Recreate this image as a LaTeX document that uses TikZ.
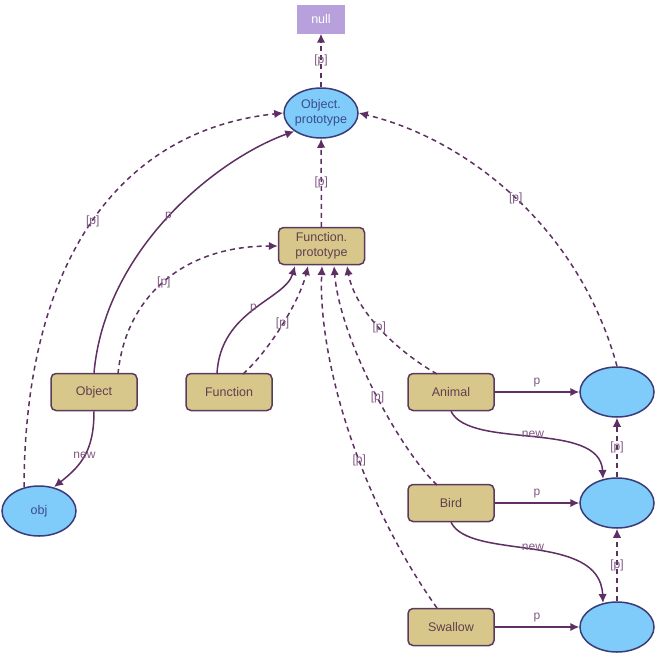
\documentclass[tikz,border=0pt]{standalone}
\usepackage{fontspec}
\setmainfont{Liberation Sans}
\usetikzlibrary{arrows.meta,shapes.geometric}
\definecolor{edge}{HTML}{5E2F62}
\definecolor{boxfill}{HTML}{D8C78A}
\definecolor{boxline}{HTML}{5B3B5B}
\definecolor{boxtext}{HTML}{5E4050}
\definecolor{ellfill}{HTML}{7FCBF9}
\definecolor{ellline}{HTML}{3B3B78}
\definecolor{elltext}{HTML}{3C4C8C}
\definecolor{nullfill}{HTML}{B8A0DC}
\tikzset{
  box/.style={draw=boxline, fill=boxfill, line width=1.5pt, rounded corners=5pt,
    minimum width=86pt, minimum height=37pt, inner sep=1pt, text=boxtext,
    font=\fontsize{12.5}{15}\selectfont, align=center},
  ell/.style={draw=ellline, fill=ellfill, line width=1.5pt, ellipse,
    minimum width=74pt, minimum height=50pt, inner sep=0pt, text=elltext,
    font=\fontsize{12.5}{15}\selectfont, align=center},
  nullbox/.style={fill=nullfill, minimum width=48pt, minimum height=29pt, inner sep=1pt,
    text=white, font=\fontsize{12.5}{15}\selectfont},
  link/.style={draw=edge, line width=1.5pt, -{Latex[length=9pt,width=8.5pt]}},
  plink/.style={link, dash pattern=on 5pt off 4pt},
  lbl/.style={text=edge!80, font=\fontsize{12}{13}\selectfont, inner sep=0pt},
}
\begin{document}
\begin{tikzpicture}[x=1pt,y=-1pt]
\useasboundingbox (0,0) rectangle (657,657);
% nodes
\node[nullbox] (null) at (321,19) {null};
\node[ell] (oproto) at (321,113) {Object.\\prototype};
\node[box] (fproto) at (321.5,246) {Function.\\prototype};
\node[box] (object) at (94,392) {Object};
\node[box] (function) at (229,392) {Function};
\node[box] (animal) at (451,392) {Animal};
\node[box] (bird) at (451,503) {Bird};
\node[box] (swallow) at (451,627) {Swallow};
\node[ell] (obj) at (39,511) {obj};
\node[ell] (ap) at (617,392) {};
\node[ell] (bp) at (617,503) {};
\node[ell] (sp) at (617,627) {};
% prototype chain of Object.prototype
\draw[plink] (oproto) -- node[lbl, pos=0.5] (l1) {[p]} (null);
\draw[plink] (fproto) -- node[lbl, pos=0.5] (l2) {[p]} (oproto);
\coordinate (objtop) at (24,487);
\draw[plink] (objtop) .. controls (25,260) and (120,130) .. node[lbl, pos=0.5] (l3) {[p]} (oproto.west);
\draw[link] (object.north) .. controls (105,250) and (215,160) .. node[lbl, pos=0.5] (l4) {p} (oproto.south west);
\draw[plink] (ap.north) .. controls (580,230) and (470,140) .. node[lbl, pos=0.5] (l5) {[p]} (oproto.east);
% into Function.prototype
\coordinate (fa) at (295,266);
\coordinate (fb) at (308,266);
\coordinate (fc) at (322,266);
\coordinate (fd) at (334,266);
\coordinate (fe) at (347,266);
\coordinate (objectd) at (118,374);
\draw[plink] (objectd) .. controls (125,300) and (180,246) .. node[lbl, pos=0.5] (l6) {[p]} (fproto.west);
\coordinate (funa) at (217,374);
\coordinate (funb) at (243,374);
\draw[link] (funa) .. controls (220,310) and (285,300) .. node[lbl, pos=0.5] (l7) {p} (fa);
\draw[plink] (funb) .. controls (270,350) and (300,300) .. node[lbl, pos=0.5] (l8) {[p]} (fb);
\coordinate (ana) at (437,374);
\coordinate (bia) at (437,485);
\coordinate (swa) at (437,608);
\draw[plink] (ana) .. controls (395,350) and (355,310) .. node[lbl, pos=0.5] (l9) {[p]} (fe);
\draw[plink] (bia) .. controls (400,450) and (340,340) .. node[lbl, pos=0.47] (l10) {[p]} (fd);
\draw[plink] (swa) .. controls (360,500) and (318,360) .. node[lbl, pos=0.42] (l11) {[p]} (fc);
% right side
\draw[link] (animal) -- node[lbl, above=4pt, pos=0.5] (l12) {p} (ap);
\draw[link] (bird) -- node[lbl, above=4pt, pos=0.5] (l13) {p} (bp);
\draw[link] (swallow) -- node[lbl, above=4pt, pos=0.5] (l14) {p} (sp);
\coordinate (bptop) at (603,479);
\coordinate (sptop) at (603,603);
\draw[link] (animal.south) .. controls (470,450) and (600,420) .. node[lbl, pos=0.5, above=-1pt] (l15) {new} (bptop);
\draw[link] (bird.south) .. controls (470,561) and (600,531) .. node[lbl, pos=0.5, above=-1pt] (l16) {new} (sptop);
\draw[plink] (bp) -- node[lbl, pos=0.5] (l17) {[p]} (ap);
\draw[plink] (sp) -- node[lbl, pos=0.5] (l18) {[p]} (bp);
% Object new obj
\coordinate (objin) at (54,487);
\draw[link] (object.south) .. controls (94,450) and (82,465) .. node[lbl, pos=0.5] (l19) {new} (objin);
\end{tikzpicture}
\end{document}
